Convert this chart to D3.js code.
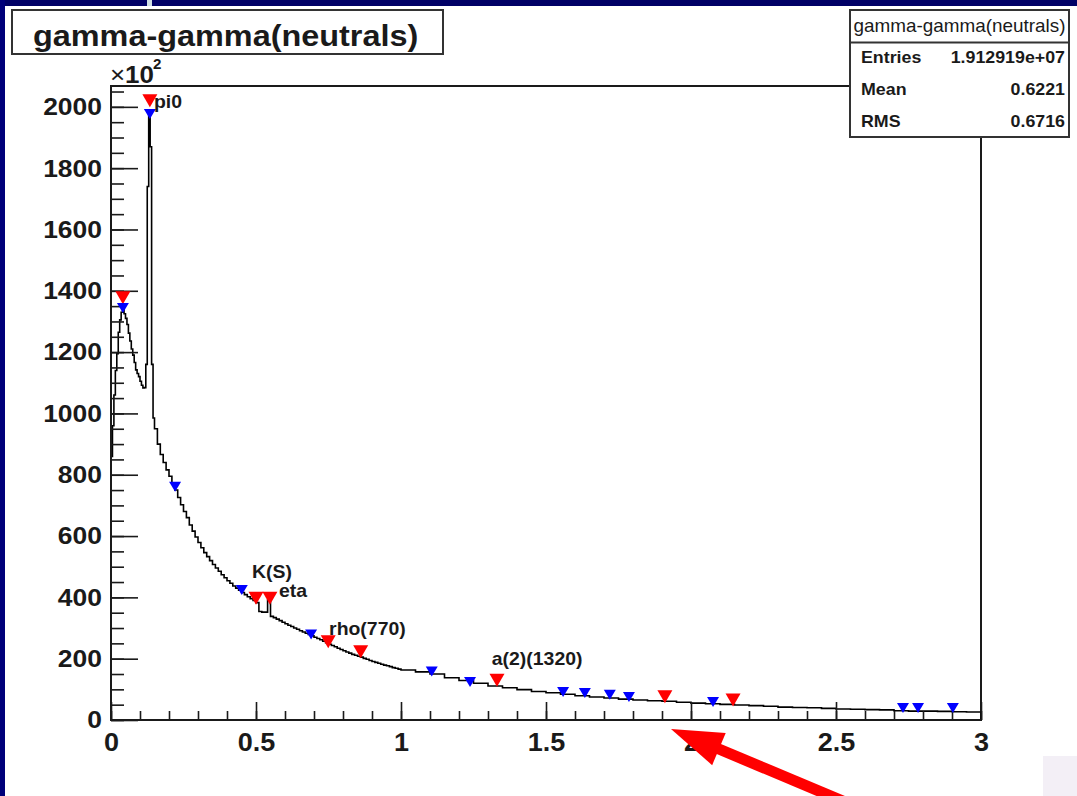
<!DOCTYPE html>
<html>
<head>
<meta charset="utf-8">
<script src="https://cdn.jsdelivr.net/npm/d3@7"></script>
<style>
  body { margin: 0; background: #fff; }
  svg { display: block; font-family: 'Liberation Sans', Arial, Helvetica, sans-serif; }
</style>
</head>
<body>
<script>
// histogram binning: three ranges with their own bin width
const segStart = [0, 0.15, 1.0];
const segWidth = [0.005, 0.01, 0.05];

// counts (x 10^2) per bin
const lowCounts = [860, 960, 1060, 1140, 1195, 1265, 1305, 1330, 1338, 1325,
  1310, 1290, 1262, 1236, 1210, 1190, 1166, 1142, 1130, 1120,
  1105, 1092, 1083, 1084, 1160, 1740, 1985, 1870, 1160, 985];
const midCounts = [950, 900, 866, 840, 816, 795, 772, 750, 726, 702,
  680, 660, 636, 616, 597, 579, 562, 546, 533, 520,
  507, 496, 485, 474, 464, 454, 446, 437, 430, 423,
  416, 409, 402, 396, 390, 383, 354, 352, 352, 392,
  338, 334, 329, 324, 319, 314, 309, 305, 300, 296,
  291, 287, 283, 279, 275, 270, 266, 262, 257, 252,
  247, 243, 239, 234, 230, 226, 222, 218, 214, 211,
  208, 205, 201, 198, 194, 191, 188, 185, 182, 179,
  177, 174, 171, 169, 166];
const tailCounts = [163, 157, 150, 138, 129, 120, 111, 105, 99, 93,
  89, 84, 79, 75, 72, 68, 65, 63, 61, 58,
  55, 53, 51, 49, 47, 45, 42, 41, 40, 38,
  36, 35, 34, 33, 30, 29, 29, 28, 27, 26];

// peak finder markers
const redMarkX = [0.134, 0.041, 0.500, 0.548, 0.749, 0.861, 1.331, 1.910, 2.145];
const redMarkY = [2020, 1377, 397, 397, 255, 223, 130, 76, 65];
const blueMarkX = [0.134, 0.041, 0.221, 0.451, 0.690, 1.106, 1.238, 1.559, 1.634, 1.720, 1.786, 2.076, 2.731, 2.783, 2.903];
const blueMarkY = [1977, 1344, 761, 424, 279, 158, 124, 91, 88, 82, 75, 59, 39, 39, 39];

// peak names
const peakNames = ['pi0', 'K(S)', 'eta', 'rho(770)', 'a(2)(1320)'];
const peakLabelX = [0.148, 0.486, 0.579, 0.752, 1.313];
const peakLabelY = [1997, 463, 401, 277, 180];

const xMajorTicks = [0, 0.5, 1, 1.5, 2, 2.5, 3];
const yMajorTicks = [0, 200, 400, 600, 800, 1000, 1200, 1400, 1600, 1800, 2000];

const statNames = ['Entries', 'Mean', 'RMS'];
const statValues = ['1.912919e+07', '0.6221', '0.6716'];

const W = 1077, H = 796;
const S = 1.08; // glyphs in the picture are a little wide
const ink = '#1a1a1a';

const x = d3.scaleLinear().domain([0, 3]).range([111, 981]);
const y = d3.scaleLinear().domain([0, 2068]).range([720, 86]);

const svg = d3.select('body').append('svg')
  .attr('width', W)
  .attr('height', H);

function stretchText(g, tx, ty, str, size, weight, anchor) {
  return g.append('text')
    .attr('transform', `translate(${tx},${ty}) scale(${S},1)`)
    .attr('font-size', size)
    .attr('font-weight', weight || 'bold')
    .attr('text-anchor', anchor || 'start')
    .attr('fill', ink)
    .text(str);
}

/* page background */
svg.append('rect').attr('width', W).attr('height', H).attr('fill', '#fff');
svg.append('rect').attr('width', W).attr('height', 6).attr('fill', '#000066');
svg.append('rect').attr('width', 5).attr('height', H).attr('fill', '#00007a');
svg.append('rect').attr('x', 147).attr('width', 5).attr('height', 6).attr('fill', '#cfdfe3');
svg.append('rect').attr('x', 1043).attr('y', 756).attr('width', 34).attr('height', 40).attr('fill', '#f3eff6');

/* frame */
svg.append('rect')
  .attr('x', x(0)).attr('y', y(2068))
  .attr('width', x(3) - x(0)).attr('height', y(0) - y(2068))
  .attr('fill', 'none')
  .attr('stroke', ink)
  .attr('stroke-width', 2);

/* histogram outline */
let pts = [];
[lowCounts, midCounts, tailCounts].forEach((counts, s) => {
  counts.forEach((c, i) => {
    const lo = segStart[s] + i * segWidth[s];
    const hi = lo + segWidth[s];
    if (pts.length === 0) pts.push([lo, 0]);
    pts.push([lo, c], [hi, c]);
  });
});
pts.push([pts[pts.length - 1][0], 0]);

svg.append('path')
  .datum(pts)
  .attr('fill', 'none')
  .attr('stroke', '#000')
  .attr('stroke-width', 1.6)
  .attr('d', d3.line().x(d => x(d[0])).y(d => y(d[1])));

/* axes: minor + major ticks pointing inside */
const yMinor = svg.append('g').attr('transform', `translate(${x(0)},0)`)
  .call(d3.axisLeft(y).tickValues(d3.range(0, 2068, 50)).tickSize(-13).tickSizeOuter(0).tickFormat(''));
const yMajor = svg.append('g').attr('transform', `translate(${x(0)},0)`)
  .call(d3.axisLeft(y).tickValues(yMajorTicks).tickSize(-27).tickSizeOuter(0).tickPadding(9).tickFormat(d3.format('d')));
const xMinor = svg.append('g').attr('transform', `translate(0,${y(0)})`)
  .call(d3.axisBottom(x).tickValues(d3.range(0, 3.001, 0.1)).tickSize(-9).tickSizeOuter(0).tickFormat(''));
const xMajor = svg.append('g').attr('transform', `translate(0,${y(0)})`)
  .call(d3.axisBottom(x).tickValues(xMajorTicks).tickSize(-18).tickSizeOuter(0).tickPadding(13).tickFormat(d3.format('')));

[yMinor, yMajor, xMinor, xMajor].forEach(g => {
  g.select('.domain').remove();
  g.selectAll('line').attr('stroke', ink).attr('stroke-width', 1.6);
});
yMajor.selectAll('text')
  .attr('font-size', 24.5).attr('font-weight', 'bold').attr('fill', ink)
  .attr('x', -9 / S).attr('transform', `scale(${S},1)`);
xMajor.selectAll('text')
  .attr('font-size', 25).attr('font-weight', 'bold').attr('fill', ink)
  .attr('transform', `scale(${S},1)`);

/* axis lines on top */
svg.append('line').attr('x1', x(0)).attr('x2', x(3)).attr('y1', y(0)).attr('y2', y(0))
  .attr('stroke', ink).attr('stroke-width', 2);
svg.append('line').attr('x1', x(0)).attr('x2', x(0)).attr('y1', y(0)).attr('y2', y(2068))
  .attr('stroke', ink).attr('stroke-width', 2);

/* markers (full triangle down) */
function triangle(w, h) {
  return `M${-w / 2},${-h / 2}L${w / 2},${-h / 2}L0,${h / 2}Z`;
}
svg.append('g').selectAll('path')
  .data(redMarkX)
  .enter().append('path')
  .attr('d', triangle(15, 13))
  .attr('fill', '#ff0000')
  .attr('transform', (d, i) => `translate(${x(d)},${y(redMarkY[i])})`);
svg.append('g').selectAll('path')
  .data(blueMarkX)
  .enter().append('path')
  .attr('d', triangle(12, 10))
  .attr('fill', '#0000ff')
  .attr('transform', (d, i) => `translate(${x(d)},${y(blueMarkY[i])})`);

/* peak labels */
peakNames.forEach((name, i) => {
  stretchText(svg, x(peakLabelX[i]), y(peakLabelY[i]), name, 18);
});

/* exponent */
stretchText(svg, 110, 83, '\u00d7', 24, 'normal');
stretchText(svg, 125, 83, '10', 24);
stretchText(svg, 153, 69, '2', 14);

/* title box */
svg.append('rect')
  .attr('x', 12).attr('y', 10).attr('width', 431).attr('height', 44)
  .attr('fill', '#fff').attr('stroke', '#333').attr('stroke-width', 2);
stretchText(svg, 33, 46, 'gamma-gamma(neutrals)', 30);

/* stats box */
const stats = svg.append('g');
stats.append('rect')
  .attr('x', 850).attr('y', 10).attr('width', 219).attr('height', 127)
  .attr('fill', '#fff').attr('stroke', '#333').attr('stroke-width', 2);
stats.append('line')
  .attr('x1', 850).attr('x2', 1069).attr('y1', 42.5).attr('y2', 42.5)
  .attr('stroke', '#333').attr('stroke-width', 2);
stretchText(stats, 959.5, 32, 'gamma-gamma(neutrals)', 17.5, 'normal', 'middle');
const rowY = [63, 95, 127];
statNames.forEach((name, i) => {
  stretchText(stats, 861, rowY[i], name, 16.5);
  stretchText(stats, 1065, rowY[i], statValues[i], 16.5, 'bold', 'end');
});

/* red arrow pointing at the axis near 1.93 */
const tip = [x(1.931), y(-29)];
const tail = [x(2.525), y(-265)];
const len = Math.hypot(tip[0] - tail[0], tip[1] - tail[1]);
const ux = (tip[0] - tail[0]) / len, uy = (tip[1] - tail[1]) / len;
const headLen = 52, headHalf = 17.5;
const base = [tip[0] - ux * headLen, tip[1] - uy * headLen];
svg.append('line')
  .attr('x1', tail[0]).attr('y1', tail[1])
  .attr('x2', base[0] + ux * 4).attr('y2', base[1] + uy * 4)
  .attr('stroke', '#ff0000').attr('stroke-width', 11);
svg.append('path')
  .attr('fill', '#ff0000')
  .attr('d', `M${tip[0]},${tip[1]}L${base[0] - uy * headHalf},${base[1] + ux * headHalf}L${base[0] + uy * headHalf},${base[1] - ux * headHalf}Z`);
</script>
</body>
</html>
